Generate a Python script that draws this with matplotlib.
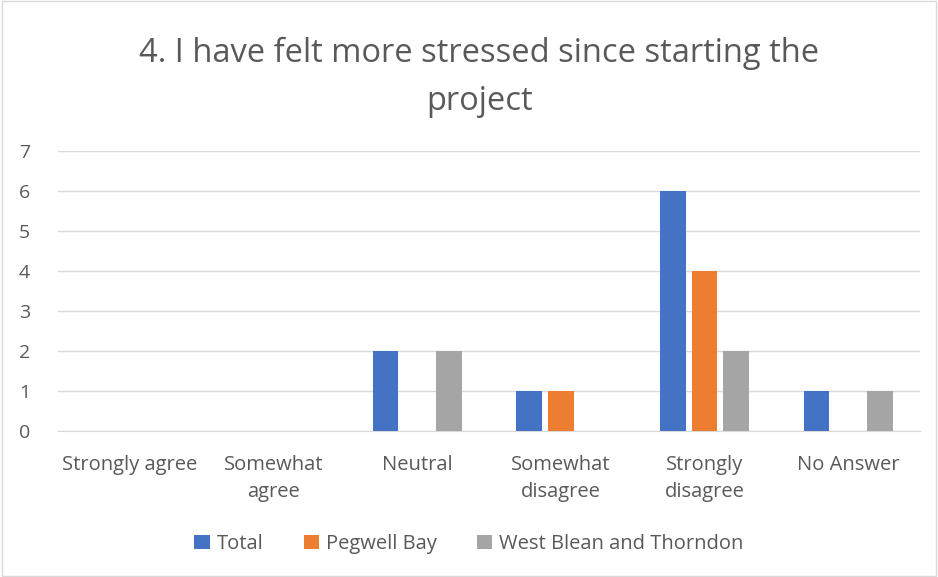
import matplotlib.pyplot as plt
import numpy as np

categories = ['Strongly agree', 'Somewhat\nagree', 'Neutral', 'Somewhat\ndisagree',
              'Strongly\ndisagree', 'No Answer']
total = [0, 0, 2, 1, 6, 1]
pegwell = [0, 0, 0, 1, 4, 0]
west = [0, 0, 2, 0, 2, 1]
series_names = ['Total', 'Pegwell Bay', 'West Blean and Thorndon']
series_colors = ['#4472C4', '#ED7D31', '#A5A5A5']

plt.rcParams['font.family'] = ['Open Sans', 'DejaVu Sans']

fig = plt.figure(figsize=(9.38, 5.77), dpi=100)
ax = fig.add_axes([58 / 938, 1 - 431 / 577, (920 - 58) / 938, 280 / 577])

x = np.arange(len(categories))
w = 0.18
off = 0.22
for i, (vals, name, col) in enumerate(zip([total, pegwell, west], series_names, series_colors)):
    ax.bar(x + (i - 1) * off, vals, width=w, color=col, label=name, zorder=3)

ax.set_xlim(-0.5, len(categories) - 0.5)
ax.set_ylim(0, 7)
ax.set_yticks(range(0, 8))
ax.grid(axis='y', color='#D9D9D9', linewidth=1, zorder=0)
ax.set_xticks(x)
ax.set_xticklabels(categories, fontsize=14.5, color='#595959', linespacing=1.5)
ax.tick_params(axis='y', labelsize=14, labelcolor='#595959', length=0, pad=20)
ax.tick_params(axis='x', length=0, pad=17)
for s in ['top', 'right', 'left']:
    ax.spines[s].set_visible(False)
ax.spines['bottom'].set_color('#D9D9D9')

fig.text(0.511, 1 - 77 / 577, '4. I have felt more stressed since starting the\nproject',
         ha='center', va='center', fontsize=23.5, color='#595959', linespacing=1.6)

fig.legend(loc='center', bbox_to_anchor=(0.5, 1 - 544 / 577), ncol=3, frameon=False,
           fontsize=14.5, labelcolor='#595959', handlelength=0.75, handleheight=0.75,
           handletextpad=0.35, columnspacing=2.0)

border = plt.Rectangle((0.002, 0.002), 0.996, 0.996, transform=fig.transFigure,
                       fill=False, edgecolor='#D9D9D9', linewidth=1)
fig.patches.append(border)

fig.savefig('out.png', dpi=100)
